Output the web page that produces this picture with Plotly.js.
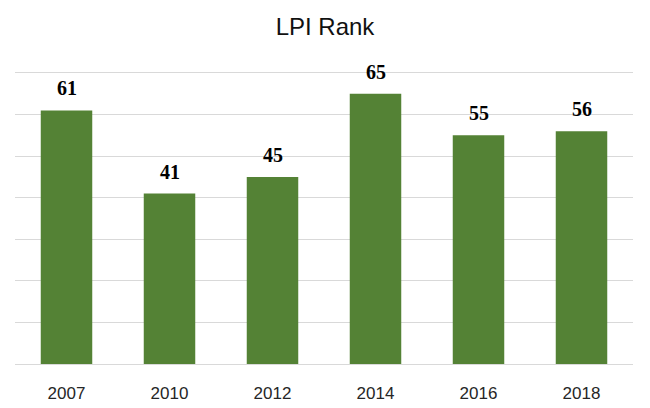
<!DOCTYPE html>
<html>
<head>
<meta charset="utf-8">
<script src="https://cdn.plot.ly/plotly-3.0.1.min.js"></script>
<style>
  html, body { margin: 0; padding: 0; background: #fff; }
  #chart { width: 650px; height: 408px; }
</style>
</head>
<body>
<div id="chart"></div>
<script>
// LPI rank by survey year
const years = ['2007', '2010', '2012', '2014', '2016', '2018'];
const ranks = [61, 41, 45, 65, 55, 56];

const barColor = '#548235';
const gridColor = '#d9d9d9';

const trace = {
	x: years,
	y: ranks,
	type: 'bar',
	marker: {color: barColor},
	hoverinfo: 'x+y'
};

// value labels sit a bit higher above the bars than plotly's own outside text,
// so they go in as annotations (category index, since the years look numeric)
const labels = years.map((yr, i) => ({
	x: i,
	y: ranks[i],
	text: '<b>' + ranks[i] + '</b>',
	showarrow: false,
	yanchor: 'bottom',
	yshift: 9,
	font: {family: '"Liberation Serif", "Times New Roman", serif', size: 20, color: '#000'}
}));

const layout = {
	width: 650,
	height: 408,
	margin: {l: 15, r: 17, t: 73, b: 44},
	paper_bgcolor: '#fff',
	plot_bgcolor: '#fff',
	showlegend: false,
	bargap: 0.5,
	title: {
		text: 'LPI Rank',
		x: 0.5,
		xanchor: 'center',
		y: 0.935,
		yanchor: 'middle',
		font: {family: '"Liberation Sans", Arial, sans-serif', size: 24, color: '#111'}
	},
	xaxis: {
		type: 'category',
		showgrid: false,
		// mirrored line gives the top gridline at 70
		showline: true,
		mirror: true,
		linecolor: gridColor,
		linewidth: 1,
		ticks: '',
		ticklabelstandoff: 14,
		tickfont: {family: '"Liberation Sans", Arial, sans-serif', size: 17, color: '#262626'}
	},
	yaxis: {
		range: [0, 70],
		dtick: 10,
		showticklabels: false,
		showgrid: true,
		gridcolor: gridColor,
		gridwidth: 1,
		zeroline: true,
		zerolinecolor: gridColor,
		zerolinewidth: 1
	},
	annotations: labels
};

Plotly.newPlot('chart', [trace], layout, {staticPlot: true, displayModeBar: false});
</script>
</body>
</html>
